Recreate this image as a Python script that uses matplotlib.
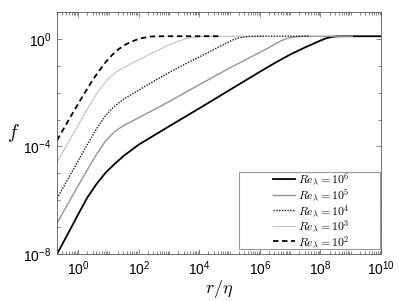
import matplotlib
matplotlib.use("Agg")
import matplotlib.pyplot as plt
import numpy as np
from matplotlib.ticker import LogLocator, NullFormatter, FixedLocator
from matplotlib.patches import Rectangle

plt.rcParams['font.family'] = ['Liberation Sans', 'DejaVu Sans']
plt.rcParams['mathtext.fontset'] = 'cm'

# values, as log10(r/eta) and log10(f)
lx_re6 = [-0.70, -0.3, 0.0, 0.3, 0.6, 0.9, 1.2, 1.5, 2.0, 3.0, 4.0, 5.0, 6.0, 6.5, 7.0, 7.5, 7.8, 8.0, 8.2, 8.4, 8.6, 10.0]
ly_re6 = [-8.00, -7.16, -6.52, -5.90, -5.40, -4.98, -4.65, -4.35, -3.93, -3.25, -2.58, -1.90, -1.22, -0.89, -0.58, -0.31, -0.16, -0.06, 0.03, 0.08, 0.10, 0.10]

lx_re5 = [-0.70, -0.3, 0.0, 0.3, 0.6, 0.9, 1.2, 1.5, 2.0, 3.0, 4.0, 5.0, 5.5, 6.0, 6.3, 6.5, 6.7, 6.9, 7.1, 7.4, 9.05]
ly_re5 = [-6.85, -6.05, -5.45, -4.87, -4.30, -3.80, -3.45, -3.22, -2.93, -2.33, -1.70, -1.08, -0.79, -0.50, -0.32, -0.19, -0.07, 0.02, 0.07, 0.10, 0.10]

lx_re4 = [-0.70, -0.3, 0.0, 0.3, 0.6, 0.9, 1.2, 1.5, 2.0, 2.5, 3.0, 3.5, 4.0, 4.3, 4.6, 4.9, 5.1, 5.3, 5.6, 6.0, 7.6]
ly_re4 = [-5.93, -5.13, -4.53, -3.93, -3.35, -2.85, -2.50, -2.24, -1.90, -1.57, -1.25, -0.95, -0.67, -0.50, -0.32, -0.15, -0.04, 0.04, 0.09, 0.10, 0.10]

lx_re3 = [-0.70, -0.3, 0.0, 0.3, 0.6, 0.9, 1.2, 1.5, 1.8, 2.1, 2.4, 2.7, 3.0, 3.3, 3.6, 3.9, 4.2, 6.1]
ly_re3 = [-4.58, -3.80, -3.20, -2.60, -2.05, -1.60, -1.27, -1.07, -0.89, -0.72, -0.55, -0.38, -0.22, -0.09, 0.02, 0.08, 0.10, 0.10]

lx_re2 = [-0.70, -0.4, -0.1, 0.2, 0.5, 0.7, 0.9, 1.1, 1.3, 1.5, 1.7, 1.9, 2.1, 2.4, 2.8, 4.7]
ly_re2 = [-3.77, -3.18, -2.60, -2.03, -1.49, -1.17, -0.87, -0.62, -0.41, -0.25, -0.13, -0.04, 0.03, 0.09, 0.10, 0.10]

labels = [r'$Re_\lambda = 10^6$', r'$Re_\lambda = 10^5$', r'$Re_\lambda = 10^4$',
          r'$Re_\lambda = 10^3$', r'$Re_\lambda = 10^2$']

fig = plt.figure(figsize=(3.99, 3.01), dpi=100)
ax = fig.add_axes([0.143, 0.156, 0.812, 0.804])

def curve(lx, ly, **kw):
    return ax.plot(10.0 ** np.array(lx), 10.0 ** np.array(ly), **kw)[0]

h6 = curve(lx_re6, ly_re6, color='black', lw=1.3)
h5 = curve(lx_re5, ly_re5, color='0.58', lw=1.0)
h3 = curve(lx_re3, ly_re3, color='0.76', lw=0.8)
h4 = curve(lx_re4, ly_re4, color='0.1', lw=1.0, ls=(0, (1, 1)))
h2 = curve(lx_re2, ly_re2, color='black', lw=1.3, ls=(0, (3, 2)))

ax.set_xscale('log')
ax.set_yscale('log')
ax.set_xlim(0.2, 1e10)
ax.set_ylim(1e-8, 10)

ax.xaxis.set_major_locator(FixedLocator([1e0, 1e2, 1e4, 1e6, 1e8, 1e10]))
ax.xaxis.set_minor_locator(LogLocator(base=10, subs=np.arange(1, 10), numticks=30))
ax.xaxis.set_minor_formatter(NullFormatter())
ax.yaxis.set_major_locator(FixedLocator([1e-8, 1e-4, 1e0]))
ax.yaxis.set_minor_locator(FixedLocator([10.0 ** k for k in range(-8, 2)]))
ax.yaxis.set_minor_formatter(NullFormatter())

ax.tick_params(which='both', direction='in', top=True, right=True, colors='0.35', labelcolor='black', labelsize=10)
ax.tick_params(which='major', length=3.5, width=0.5, pad=4)
ax.tick_params(which='minor', length=2, width=0.5)
for s in ax.spines.values():
    s.set_color('0.35')
    s.set_linewidth(0.6)

ax.set_xlabel(r'$r/\eta$', fontsize=13, labelpad=0)
ax.set_ylabel(r'$f$', fontsize=14, rotation=0, va='center', ha='center')
ax.yaxis.set_label_coords(-0.135, 0.5)

# legend frame drawn separately, MATLAB-like wide box
ax.add_patch(Rectangle((0.562, 0.02), 0.435, 0.318, transform=ax.transAxes,
                       facecolor='white', edgecolor='0.6', lw=0.8, zorder=4))
leg = ax.legend([h6, h5, h4, h3, h2], labels, loc='center', fontsize=8.5,
                frameon=False, handlelength=1.9, handletextpad=0.25,
                borderpad=0.1, labelspacing=0.0,
                bbox_to_anchor=(0.785, 0.179))
leg.set_zorder(5)

fig.savefig('out.png', dpi=100)
